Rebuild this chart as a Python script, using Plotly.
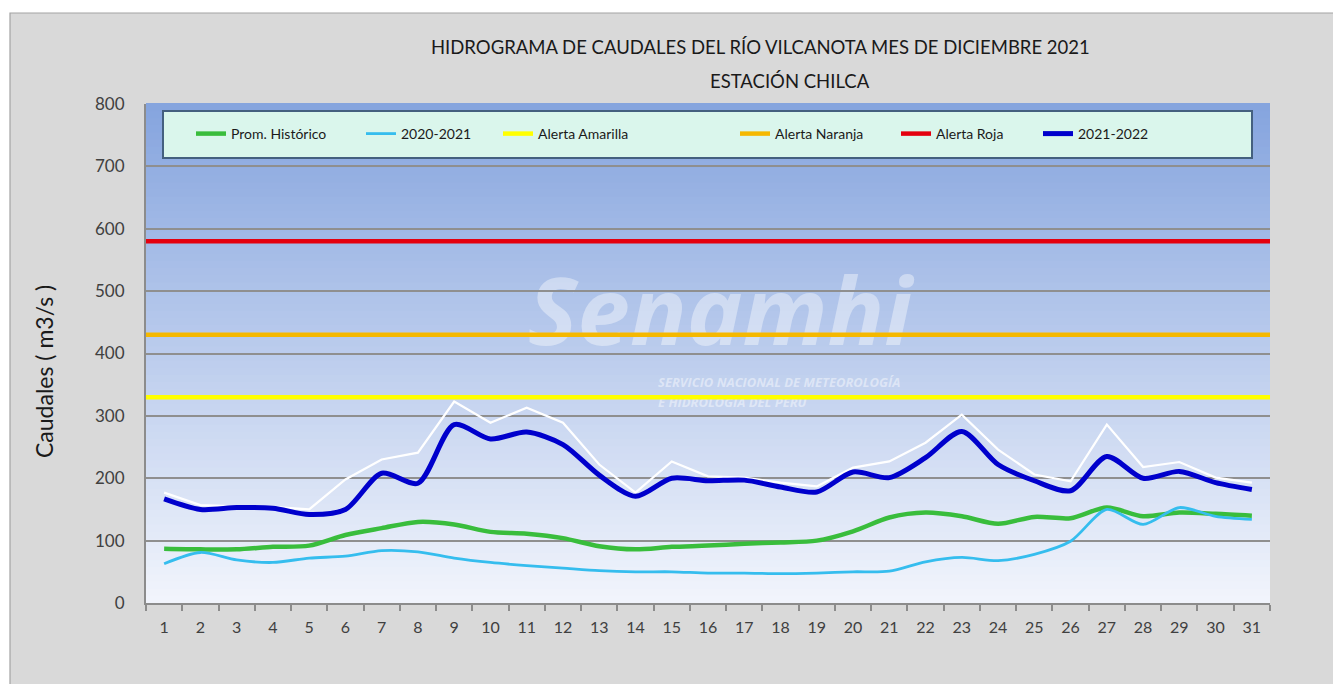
import plotly.graph_objects as go

# ---------------- data ----------------
days = [str(d) for d in range(1, 32)]

prom_historico = [87, 86, 86, 90, 92, 109, 120, 130, 126, 114, 111, 104, 91, 86, 90, 92,
                  95, 97, 100, 115, 137, 145, 139, 127, 138, 136, 153, 139, 145, 143, 140]
q_2020_2021 = [63, 81, 69, 65, 72, 75, 84, 82, 72, 65, 60, 56, 52, 50, 50, 48,
               48, 47, 48, 50, 51, 66, 73, 68, 78, 99, 150, 126, 153, 139, 134]
q_2021_2022 = [167, 150, 153, 152, 142, 150, 208, 192, 286, 263, 274, 254, 205, 171, 200, 196,
               197, 186, 178, 210, 201, 233, 275, 222, 196, 180, 235, 200, 211, 193, 182]
q_sin_leyenda = [177, 157, 155, 154, 150, 198, 230, 241, 323, 289, 313, 289, 222, 177, 227, 203,
                 201, 193, 187, 217, 227, 257, 302, 246, 206, 195, 286, 218, 226, 201, 193]

alerta_amarilla = 330
alerta_naranja = 430
alerta_roja = 580

y_max = 800
y_step = 100

title_line1 = "HIDROGRAMA DE CAUDALES DEL RÍO VILCANOTA MES DE DICIEMBRE 2021"
title_line2 = "ESTACIÓN CHILCA"
y_title = "Caudales ( m3/s )"

FONT = "Lato"
OFF = 8  # page body margin
W, H = 1341 - OFF, 684 - OFF
ML, MT = 146 - OFF, 104 - OFF
PR, PB = 1270 - OFF, 603 - OFF
MR, MB = W - PR, H - PB
PW, PH = PR - ML, PB - MT


def px_x(x):
    return (x - OFF - ML) / PW


def px_y(y):
    return (PB - (y - OFF)) / PH


fig = go.Figure()

# series (drawing order: green, cyan, white, blue)
fig.add_trace(go.Scatter(x=days, y=prom_historico, name="Prom. Histórico", mode="lines",
                         line=dict(color="#39bd3c", width=4.5, shape="spline", smoothing=0.8),
                         legend="legend"))
fig.add_trace(go.Scatter(x=days, y=q_2020_2021, name="2020-2021", mode="lines",
                         line=dict(color="#35bdee", width=2.8, shape="spline", smoothing=0.8),
                         legend="legend2"))
fig.add_trace(go.Scatter(x=days, y=q_sin_leyenda, name="", mode="lines", showlegend=False,
                         line=dict(color="#ffffff", width=2.2)))
fig.add_trace(go.Scatter(x=days, y=q_2021_2022, name="2021-2022", mode="lines",
                         line=dict(color="#0000cc", width=5, shape="spline", smoothing=0.8),
                         legend="legend6"))

shapes = []
# outer gray frame
shapes.append(dict(type="rect", xref="paper", yref="paper", layer="below",
                   x0=px_x(10), x1=px_x(1350), y0=px_y(700), y1=px_y(13),
                   fillcolor="#d9d9d9", line=dict(color="#a3a3a3", width=1.2)))
# plot-area vertical gradient
N = 70
top = (133, 164, 222)
bot = (242, 245, 252)
for i in range(N):
    t = (i + 0.5) / N
    c = tuple(int(round(bot[k] + (top[k] - bot[k]) * t)) for k in range(3))
    shapes.append(dict(type="rect", xref="x domain", yref="y domain", layer="below",
                       x0=0, x1=1, y0=i / N, y1=(i + 1) / N + 0.002,
                       fillcolor="rgb(%d,%d,%d)" % c, line=dict(width=0)))
# watermark
shapes.append(dict(type="rect", xref="paper", yref="paper", layer="below",
                   x0=px_x(480), x1=px_x(960), y0=px_y(362), y1=px_y(268),
                   line=dict(width=0), fillcolor="rgba(0,0,0,0)",
                   label=dict(text="<b><i>Senamhi</i></b>",
                              font=dict(family="Open Sans", size=94, color="rgba(255,255,255,0.4)"),
                              textposition="middle center")))
shapes.append(dict(type="rect", xref="paper", yref="paper", layer="below",
                   x0=px_x(652), x1=px_x(960), y0=px_y(391), y1=px_y(374),
                   line=dict(width=0), fillcolor="rgba(0,0,0,0)",
                   label=dict(text="<b><i>SERVICIO NACIONAL DE METEOROLOGÍA</i></b>",
                              font=dict(family="Open Sans", size=13, color="rgba(255,255,255,0.45)"),
                              textposition="middle left")))
shapes.append(dict(type="rect", xref="paper", yref="paper", layer="below",
                   x0=px_x(652), x1=px_x(960), y0=px_y(411), y1=px_y(394),
                   line=dict(width=0), fillcolor="rgba(0,0,0,0)",
                   label=dict(text="<b><i>E HIDROLOGÍA DEL PERÚ</i></b>",
                              font=dict(family="Open Sans", size=13, color="rgba(255,255,255,0.45)"),
                              textposition="middle left")))

# alert thresholds
for val, name, col, lg in [(alerta_amarilla, "Alerta Amarilla", "#ffff00", "legend3"),
                           (alerta_naranja, "Alerta Naranja", "#f5b800", "legend4"),
                           (alerta_roja, "Alerta Roja", "#e4000f", "legend5")]:
    shapes.append(dict(type="line", xref="x domain", yref="y", layer="above",
                       x0=0, x1=1, y0=val, y1=val, line=dict(color=col, width=4.5),
                       showlegend=True, name=name, legend=lg))

# legend box
shapes.append(dict(type="rect", xref="paper", yref="paper", layer="above",
                   x0=px_x(163), x1=px_x(1252), y0=px_y(158), y1=px_y(111),
                   fillcolor="#daf6ec", line=dict(color="#44607f", width=2)))

annotations = [
    dict(text=title_line1, xref="paper", yref="paper", x=px_x(760), y=px_y(47),
         showarrow=False, xanchor="center", yanchor="middle",
         font=dict(family=FONT, size=18.5, color="#1a1a1a")),
    dict(text=title_line2, xref="paper", yref="paper", x=px_x(790), y=px_y(81),
         showarrow=False, xanchor="center", yanchor="middle",
         font=dict(family=FONT, size=18.5, color="#1a1a1a")),
    dict(text=y_title, xref="paper", yref="paper", x=px_x(44), y=px_y(372),
         showarrow=False, textangle=-90, xanchor="center", yanchor="middle",
         font=dict(family=FONT, size=23, color="#1a1a1a")),
]

legend_starts = [198, 368, 505, 742, 903, 1045]
legend_style = dict(orientation="h", yanchor="middle", xanchor="left",
                    bgcolor="rgba(0,0,0,0)", borderwidth=0,
                    font=dict(family=FONT, size=14, color="#1a1a1a"))
legends = {}
for i, xs in enumerate(legend_starts):
    key = "legend" if i == 0 else "legend%d" % (i + 1)
    legends[key] = dict(legend_style, x=px_x(xs - 7), y=px_y(134))

fig.update_layout(
    width=W, height=H,
    margin=dict(l=ML, r=MR, t=MT, b=MB, autoexpand=False),
    paper_bgcolor="#ffffff",
    plot_bgcolor="rgba(0,0,0,0)",
    shapes=shapes,
    annotations=annotations,
    showlegend=True,
    font=dict(family=FONT),
    **legends,
)

fig.update_xaxes(
    type="category", categoryorder="array", categoryarray=days,
    range=[-0.5, len(days) - 0.5],
    showgrid=False, showline=True, linecolor="#8c8c8c", linewidth=2,
    ticks="outside", tickson="boundaries", ticklen=6, tickcolor="#8c8c8c", tickwidth=1.5,
    tickfont=dict(family=FONT, size=16, color="#404040"),
    ticklabelstandoff=9,
    fixedrange=True,
)
fig.update_yaxes(
    range=[0, y_max], tick0=0, dtick=y_step,
    showgrid=True, gridcolor="#8f8f8f", gridwidth=2,
    showline=True, linecolor="#8c8c8c", linewidth=2,
    zeroline=False, ticks="",
    tickfont=dict(family=FONT, size=17, color="#404040"),
    ticklabelstandoff=16,
    fixedrange=True,
)

fig.write_html("out.html")
